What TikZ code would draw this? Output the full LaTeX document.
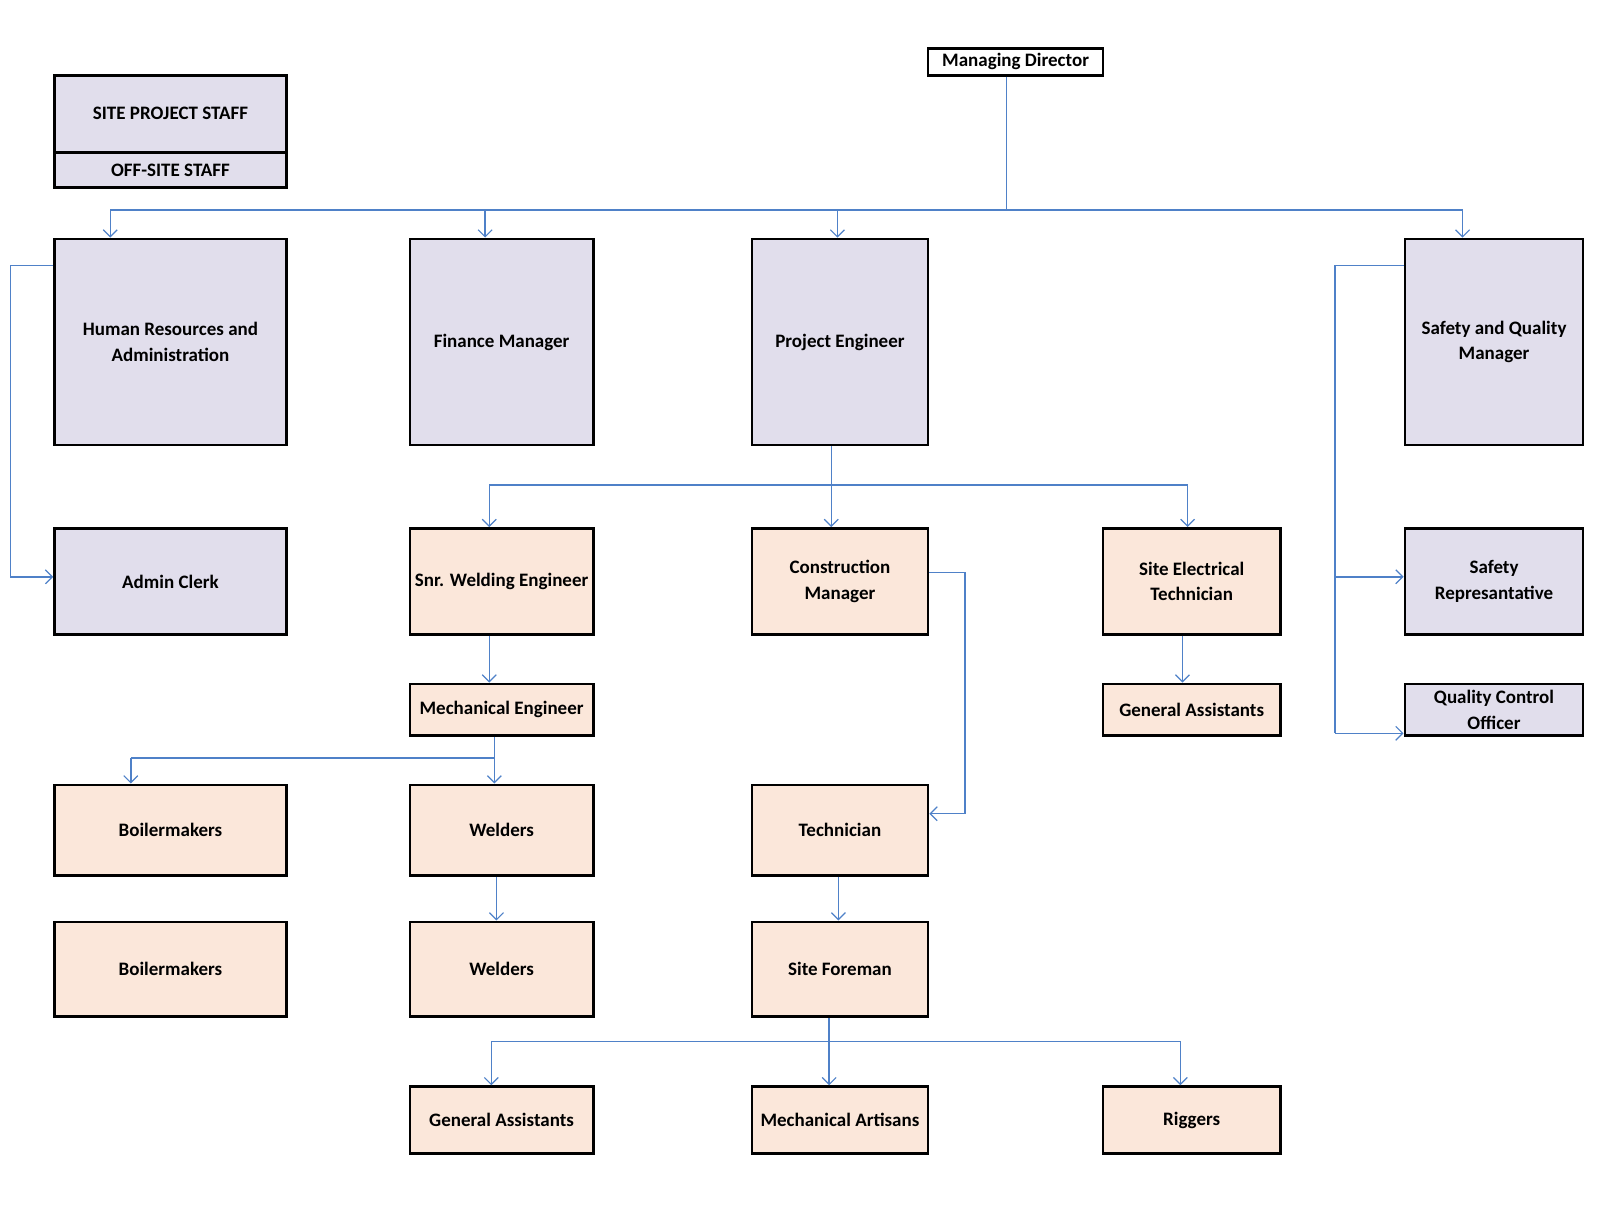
\documentclass[tikz,border=0pt]{standalone}
\usepackage{fontspec}
\setmainfont{Carlito}
\usetikzlibrary{arrows.meta}
\definecolor{lav}{RGB}{225,222,236}
\definecolor{pch}{RGB}{251,231,218}
\definecolor{ln}{RGB}{79,129,200}
\tikzset{
 bx/.style={draw=black,line width=2.7pt,align=center,font=\bfseries\fontsize{19}{25.5}\selectfont,inner sep=0pt},
 lv/.style={bx,fill=lav}, pc/.style={bx,fill=pch},
 cn/.style={draw=ln,line width=1.4pt},
 ar/.style={cn,-{Straight Barb[length=7pt,width=14pt,line width=1.2pt]}}
}
\newcommand{\bxx}[6]{\node[#1,minimum width=1.03*#4pt-1.03*#2pt,minimum height=1.03*#5pt-1.03*#3pt] (#6) at ({(#2+#4)/2*1.03pt},{-(#3+#5)/2*1.03pt})}
\begin{document}
\begin{tikzpicture}[x=1.03pt,y=-1.03pt]
\useasboundingbox (0,0) rectangle (1567,1169);
\bxx{lv}{53}{73}{278}{148}{sps} {SITE PROJECT STAFF};
\bxx{lv}{53}{148}{278}{182}{off} {OFF-SITE STAFF};
\bxx{bx,fill=white}{901}{47}{1071}{73}{md} {Managing Director};
\bxx{lv}{53}{232}{278}{432}{hr} {Human Resources and\\Administration};
\bxx{lv}{398}{232}{576}{432}{fin} {Finance Manager};
\bxx{lv}{730}{232}{901}{432}{pe} {Project Engineer};
\bxx{lv}{1364}{232}{1537}{432}{sqm} {Safety and Quality\\Manager};
\bxx{lv}{53}{513}{278}{616}{adm} {Admin Clerk};
\bxx{pc}{398}{513}{576}{616}{snr} {Snr. Welding Engineer};
\bxx{pc}{730}{513}{901}{616}{cm} {Construction\\Manager};
\bxx{pc}{1071}{513}{1243}{616}{set} {Site Electrical\\Technician};
\bxx{lv}{1364}{513}{1537}{616}{sr} {Safety\\Represantative};
\bxx{pc}{398}{664}{576}{714}{me} {Mechanical Engineer};
\bxx{pc}{1071}{664}{1243}{714}{ga1} {General Assistants};
\bxx{lv}{1364}{664}{1537}{714}{qco} {Quality Control\\Officer};
\bxx{pc}{53}{762}{278}{850}{b1} {Boilermakers};
\bxx{pc}{398}{762}{576}{850}{w1} {Welders};
\bxx{pc}{730}{762}{901}{850}{tec} {Technician};
\bxx{pc}{53}{895}{278}{987}{b2} {Boilermakers};
\bxx{pc}{398}{895}{576}{987}{w2} {Welders};
\bxx{pc}{730}{895}{901}{987}{sf} {Site Foreman};
\bxx{pc}{398}{1055}{576}{1120}{ga2} {General Assistants};
\bxx{pc}{730}{1055}{901}{1120}{ma} {Mechanical Artisans};
\bxx{pc}{1071}{1055}{1243}{1120}{rig} {Riggers};
% MD
\coordinate (j1) at (977,204);
\draw[cn] (md.south -| j1) -- (j1);
\draw[cn] (107,204) -- (1420,204);
\draw[ar] (107,204) -- (hr.north -| 107,0);
\draw[ar] (471,204) -- (fin.north -| 471,0);
\draw[ar] (813,204) -- (pe.north -| 813,0);
\draw[ar] (1420,204) -- (sqm.north -| 1420,0);
% HR
\draw[ar] (hr.west |- 0,258) -- (10,258) -- (10,560) -- (adm.west |- 0,560);
% PE
\draw[cn] (pe.south -| 807,0) -- (807,471);
\draw[cn] (475,471) -- (1153,471);
\draw[ar] (475,471) -- (snr.north -| 475,0);
\draw[ar] (807,471) -- (cm.north -| 807,0);
\draw[ar] (1153,471) -- (set.north -| 1153,0);
\draw[ar] (snr.south -| 475,0) -- (me.north -| 475,0);
\draw[ar] (set.south -| 1148,0) -- (ga1.north -| 1148,0);
\draw[ar] (cm.east |- 0,556) -- (937,556) -- (937,790) -- (tec.east |- 0,790);
% SQM
\draw[cn] (sqm.west |- 0,258) -- (1296,258) -- (1296,712);
\draw[ar] (1296,560) -- (sr.west |- 0,560);
\draw[ar] (1296,712) -- (qco.west |- 0,712);
% ME
\draw[cn] (me.south -| 480,0) -- (480,736);
\draw[cn] (127,736) -- (480,736);
\draw[ar] (127,736) -- (b1.north -| 127,0);
\draw[ar] (480,736) -- (w1.north -| 480,0);
\draw[ar] (w1.south -| 482,0) -- (w2.north -| 482,0);
\draw[ar] (tec.south -| 814,0) -- (sf.north -| 814,0);
% SF
\draw[cn] (sf.south -| 805,0) -- (805,1011);
\draw[cn] (477,1011) -- (1146,1011);
\draw[ar] (477,1011) -- (ga2.north -| 477,0);
\draw[ar] (805,1011) -- (ma.north -| 805,0);
\draw[ar] (1146,1011) -- (rig.north -| 1146,0);
\end{tikzpicture}
\end{document}
